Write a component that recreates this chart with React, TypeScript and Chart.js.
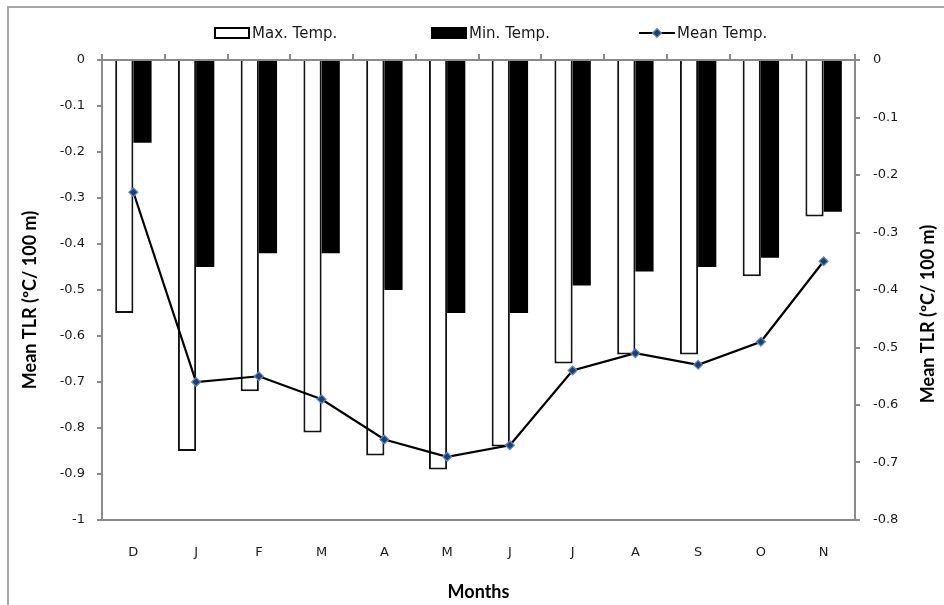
import React, { useEffect, useRef } from 'react';
import { Chart, registerables } from 'chart.js';

Chart.register(...registerables);

const months = ['D', 'J', 'F', 'M', 'A', 'M', 'J', 'J', 'A', 'S', 'O', 'N'];
const maxTemp = [-0.55, -0.85, -0.72, -0.81, -0.86, -0.89, -0.84, -0.66, -0.64, -0.64, -0.47, -0.34];
const minTemp = [-0.18, -0.45, -0.42, -0.42, -0.5, -0.55, -0.55, -0.49, -0.46, -0.45, -0.43, -0.33];
const meanTemp = [-0.23, -0.56, -0.55, -0.59, -0.66, -0.69, -0.67, -0.54, -0.51, -0.53, -0.49, -0.35];
const legendLabels = ['Max. Temp.', 'Min. Temp.', 'Mean Temp.'];
const yTitle = 'Mean TLR (ºC/ 100 m)';
const xTitle = 'Months';

const AXIS_GRAY = '#8a8a8a';
const TICK_FONT = { family: '"DejaVu Sans", sans-serif', size: 13 };
const TITLE_FONT_FAMILY = 'Lato, "Open Sans", sans-serif';
const fmt = (v: number | string) => {
  const n = Math.round(Number(v) * 10) / 10;
  return String(n === 0 ? 0 : n);
};

const decorPlugin = {
  id: 'decor',
  beforeDraw(chart: any) {
    const ctx = chart.ctx;
    ctx.save();
    ctx.fillStyle = '#ffffff';
    ctx.fillRect(0, 0, chart.width, chart.height);
    ctx.restore();
  },
  afterDraw(chart: any) {
    const ctx = chart.ctx;
    const area = chart.chartArea;
    ctx.save();
    // outer frame
    ctx.strokeStyle = '#a6a6a6';
    ctx.lineWidth = 2;
    ctx.beginPath();
    ctx.moveTo(8, chart.height);
    ctx.lineTo(8, 7);
    ctx.lineTo(chart.width, 7);
    ctx.stroke();

    // axis titles (both read bottom-to-top)
    ctx.fillStyle = '#000';
    ctx.font = `bold 18px ${TITLE_FONT_FAMILY}`;
    ctx.textAlign = 'center';
    ctx.textBaseline = 'middle';
    const midY = (area.top + area.bottom) / 2;
    ctx.save();
    ctx.translate(30, midY + 10);
    ctx.rotate(-Math.PI / 2);
    ctx.fillText(yTitle, 0, 0);
    ctx.restore();
    ctx.save();
    ctx.translate(928, midY + 24);
    ctx.rotate(-Math.PI / 2);
    ctx.fillText(yTitle, 0, 0);
    ctx.restore();

    // legend
    const ly = 33;
    const starts = [214, 431, 639];
    const boxW = 36;
    const boxH = 12;
    ctx.font = `15px ${TICK_FONT.family}`;
    ctx.textAlign = 'left';
    ctx.textBaseline = 'middle';
    // Max
    ctx.fillStyle = '#fff';
    ctx.fillRect(starts[0], ly - boxH / 2, boxW, boxH);
    ctx.strokeStyle = '#000';
    ctx.lineWidth = 2;
    ctx.strokeRect(starts[0] + 1, ly - boxH / 2 + 1, boxW - 2, boxH - 2);
    // Min
    ctx.fillStyle = '#000';
    ctx.fillRect(starts[1], ly - boxH / 2, boxW, boxH);
    // Mean
    ctx.strokeStyle = '#000';
    ctx.lineWidth = 2;
    ctx.beginPath();
    ctx.moveTo(starts[2], ly);
    ctx.lineTo(starts[2] + boxW, ly);
    ctx.stroke();
    const cx = starts[2] + boxW / 2;
    ctx.beginPath();
    ctx.moveTo(cx, ly - 4.5);
    ctx.lineTo(cx + 4.5, ly);
    ctx.lineTo(cx, ly + 4.5);
    ctx.lineTo(cx - 4.5, ly);
    ctx.closePath();
    ctx.fillStyle = '#203f6e';
    ctx.fill();
    ctx.strokeStyle = '#5a8ccc';
    ctx.lineWidth = 1.2;
    ctx.stroke();
    ctx.fillStyle = '#1a1a1a';
    legendLabels.forEach((t, i) => {
      ctx.fillText(t, starts[i] + boxW + 2, ly + 1);
    });
    ctx.restore();
  },
};

export default function App() {
  const ref = useRef<HTMLCanvasElement | null>(null);
  useEffect(() => {
    if (!ref.current) return;
    const chart = new Chart(ref.current, {
      type: 'bar',
      data: {
        labels: months,
        datasets: [
          {
            type: 'line',
            label: legendLabels[2],
            data: meanTemp,
            yAxisID: 'y1',
            xAxisID: 'x',
            borderColor: '#000',
            borderWidth: 2.2,
            pointStyle: 'rectRot',
            pointRadius: 4.5,
            pointBackgroundColor: '#203f6e',
            pointBorderColor: '#5a8ccc',
            pointBorderWidth: 1.2,
            tension: 0,
            order: 0,
          } as any,
          {
            type: 'bar',
            label: legendLabels[0],
            data: maxTemp,
            yAxisID: 'y',
            xAxisID: 'x',
            backgroundColor: '#ffffff',
            borderColor: '#111',
            borderWidth: 2,
            categoryPercentage: 0.58,
            barPercentage: 1.0,
            order: 1,
          },
          {
            type: 'bar',
            label: legendLabels[1],
            data: minTemp,
            yAxisID: 'y',
            xAxisID: 'x',
            backgroundColor: '#000000',
            borderWidth: 0,
            categoryPercentage: 0.58,
            barPercentage: 1.0,
            order: 1,
          },
        ],
      },
      options: {
        responsive: false,
        animation: false,
        devicePixelRatio: 1,
        layout: { padding: 0 },
        plugins: {
          legend: { display: false },
          tooltip: { enabled: false },
          title: { display: false },
        },
        scales: {
          x: {
            type: 'category',
            position: 'bottom',
            offset: true,
            grid: { display: false, drawTicks: false },
            border: { display: true, color: AXIS_GRAY, width: 2 },
            ticks: { padding: 25, font: TICK_FONT, color: '#1a1a1a', maxRotation: 0 },
            title: {
              display: true,
              text: xTitle,
              color: '#000',
              font: { family: TITLE_FONT_FAMILY, size: 18, weight: 'bold' },
              padding: { top: 0, bottom: 2 },
            },
            afterFit: (s: any) => {
              s.height = 85;
            },
          },
          xTop: {
            type: 'category',
            position: 'top',
            offset: true,
            grid: {
              display: true,
              offset: true,
              drawOnChartArea: false,
              drawTicks: true,
              tickLength: 6,
              color: AXIS_GRAY,
              lineWidth: 2,
            },
            border: { display: true, color: AXIS_GRAY, width: 2 },
            ticks: { display: false },
            afterFit: (s: any) => {
              s.height = 60;
            },
          },
          y: {
            position: 'left',
            min: -1,
            max: 0,
            grid: { drawOnChartArea: false, drawTicks: true, tickLength: 5, color: AXIS_GRAY, lineWidth: 2 },
            border: { display: true, color: AXIS_GRAY, width: 2 },
            ticks: { stepSize: 0.1, padding: 12, font: TICK_FONT, color: '#1a1a1a', callback: (v: any) => fmt(v) },
            afterFit: (s: any) => {
              s.width = 102;
            },
          },
          y1: {
            position: 'right',
            min: -0.8,
            max: 0,
            grid: { drawOnChartArea: false, drawTicks: true, tickLength: 5, color: AXIS_GRAY, lineWidth: 2 },
            border: { display: true, color: AXIS_GRAY, width: 2 },
            ticks: { stepSize: 0.1, padding: 13, font: TICK_FONT, color: '#1a1a1a', callback: (v: any) => fmt(v) },
            afterFit: (s: any) => {
              s.width = 89;
            },
          },
        },
      } as any,
      plugins: [decorPlugin],
    });
    return () => chart.destroy();
  }, []);

  return (
    <div style={{ position: 'absolute', left: 0, top: 0, width: 944, height: 605, background: '#fff' }}>
      <canvas ref={ref} width={944} height={605} style={{ display: 'block', width: 944, height: 605 }} />
    </div>
  );
}
